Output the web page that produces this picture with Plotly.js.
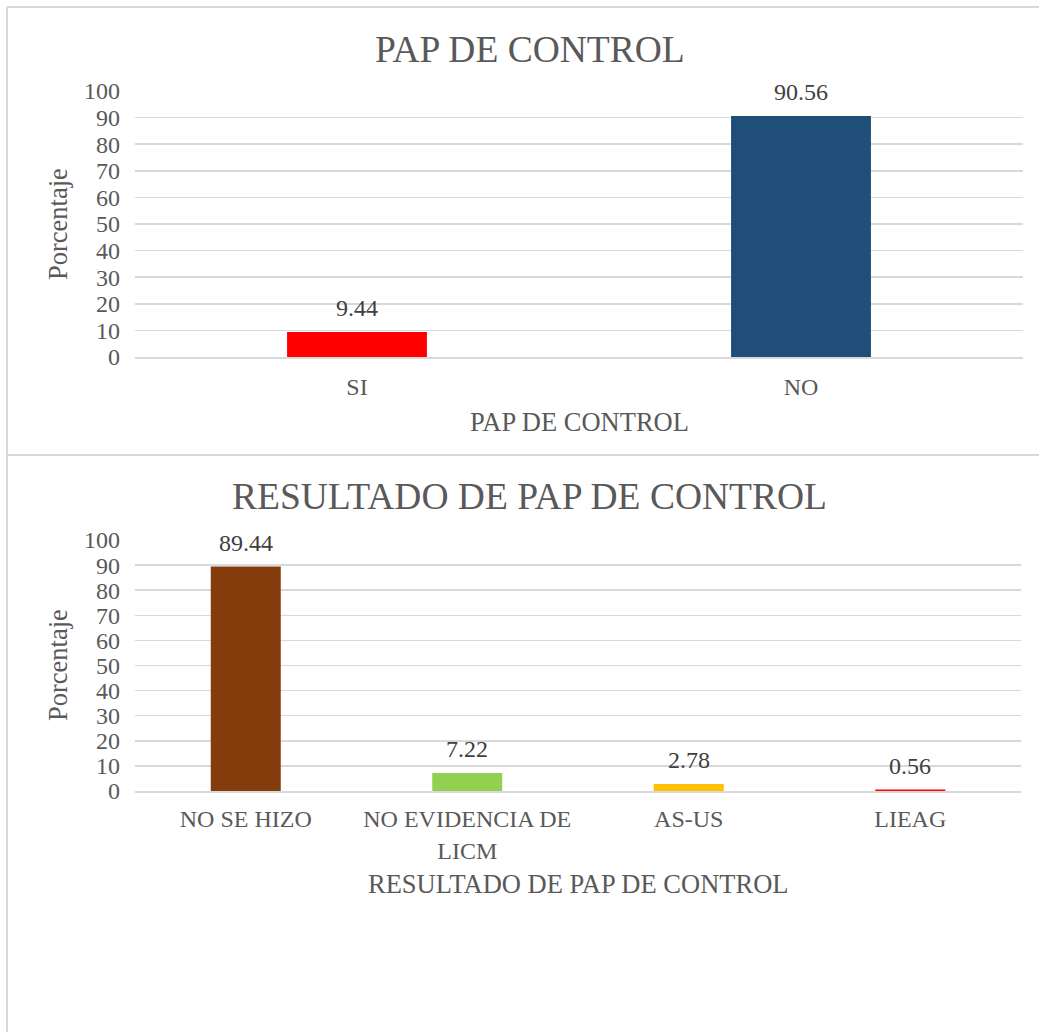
<!DOCTYPE html>
<html>
<head>
<meta charset="utf-8">
<script src="https://cdn.plot.ly/plotly-3.0.1.min.js"></script>
<style>
html,body{margin:0;padding:0;background:#fff;}
#chart{width:1039px;height:1032px;}
</style>
</head>
<body>
<div id="chart"></div>
<script>
// ---- data ----
const cats1 = ["SI", "NO"];
const vals1 = [9.44, 90.56];
const colors1 = ["#FF0000", "#1F4E79"];

const cats2 = ["NO SE HIZO", "NO EVIDENCIA DE<br>LICM", "AS-US", "LIEAG"];
const vals2 = [89.44, 7.22, 2.78, 0.56];
const colors2 = ["#843C0C", "#92D050", "#FFC000", "#FF0000"];

const title1 = "PAP DE CONTROL";
const xtitle1 = "PAP DE CONTROL";
const title2 = "RESULTADO DE PAP DE CONTROL";
const xtitle2 = "RESULTADO DE PAP DE CONTROL";
const ytitle = "Porcentaje";
const yTicks = [0,10,20,30,40,50,60,70,80,90,100];

// ---- layout helpers (pixel -> paper) ----
const W = 1039, H = 1032;
const px = x => x / W;
const py = y => 1 - y / H;

const FONT = "Liberation Serif";
const GREY = "#595959";
const LABEL = "#404040";
const GRID = "#d9d9d9";

const traces = [
  {type:"bar", x:cats1, y:vals1, marker:{color:colors1}, width:0.315, xaxis:"x", yaxis:"y", hoverinfo:"skip"},
  {type:"bar", x:cats2, y:vals2, marker:{color:colors2}, width:0.316, xaxis:"x2", yaxis:"y2", hoverinfo:"skip"}
];

const yaxisBase = {
  range:[0,100], tickvals:yTicks, ticktext:yTicks.map(String),
  showgrid:true, gridcolor:GRID, gridwidth:1.5, zeroline:false, showline:false,
  ticks:"", ticklabelstandoff:14,
  tickfont:{family:FONT, size:24, color:GREY}, fixedrange:true
};
const xaxisBase = {
  showgrid:false, zeroline:false, showline:true, linecolor:GRID, linewidth:1.5,
  ticks:"", tickfont:{family:FONT, size:24, color:GREY}, fixedrange:true, type:"category"
};

const annotations = [];
function addText(text, x, y, size, color, angle){
  annotations.push({text:text, xref:"paper", yref:"paper", x:px(x), y:py(y),
    xanchor:"center", yanchor:"middle", showarrow:false, textangle:angle||0,
    font:{family:FONT, size:size, color:color}});
}
addText(title1, 530, 50, 37.5, GREY);
addText(xtitle1, 579, 422, 26.5, GREY);
addText(ytitle, 58, 224, 26.5, GREY, -90);
addText(title2, 529, 497, 37.5, GREY);
addText(xtitle2, 578, 884, 26.5, GREY);
addText(ytitle, 58, 665, 26.5, GREY, -90);

cats1.forEach((c,i)=>annotations.push({text:vals1[i].toFixed(2), x:c, y:vals1[i], xref:"x", yref:"y",
  yanchor:"middle", yshift:24, showarrow:false, font:{family:FONT, size:24, color:LABEL}}));
cats2.forEach((c,i)=>annotations.push({text:vals2[i].toFixed(2), x:c, y:vals2[i], xref:"x2", yref:"y2",
  yanchor:"middle", yshift:24, showarrow:false, font:{family:FONT, size:24, color:LABEL}}));

const shapes = [
  {type:"line", xref:"paper", yref:"paper", x0:px(7), x1:px(7), y0:py(7), y1:0, line:{color:GRID, width:2}},
  {type:"line", xref:"paper", yref:"paper", x0:px(7), x1:1, y0:py(7), y1:py(7), line:{color:GRID, width:2}},
  {type:"line", xref:"paper", yref:"paper", x0:px(7), x1:1, y0:py(455), y1:py(455), line:{color:GRID, width:2}}
];

const layout = {
  width:W, height:H, margin:{l:0,r:0,t:0,b:0},
  paper_bgcolor:"#ffffff", plot_bgcolor:"rgba(0,0,0,0)",
  showlegend:false,
  font:{family:FONT, color:GREY},
  xaxis: Object.assign({}, xaxisBase, {domain:[px(135), px(1023)], anchor:"y", ticklabelstandoff:8}),
  yaxis: Object.assign({}, yaxisBase, {domain:[py(357), py(91)], anchor:"x"}),
  xaxis2: Object.assign({}, xaxisBase, {domain:[px(135), px(1021)], anchor:"y2", ticklabelstandoff:6}),
  yaxis2: Object.assign({}, yaxisBase, {domain:[py(791), py(540)], anchor:"x2"}),
  annotations:annotations,
  shapes:shapes
};

Plotly.newPlot("chart", traces, layout, {displayModeBar:false, staticPlot:true});
</script>
</body>
</html>
